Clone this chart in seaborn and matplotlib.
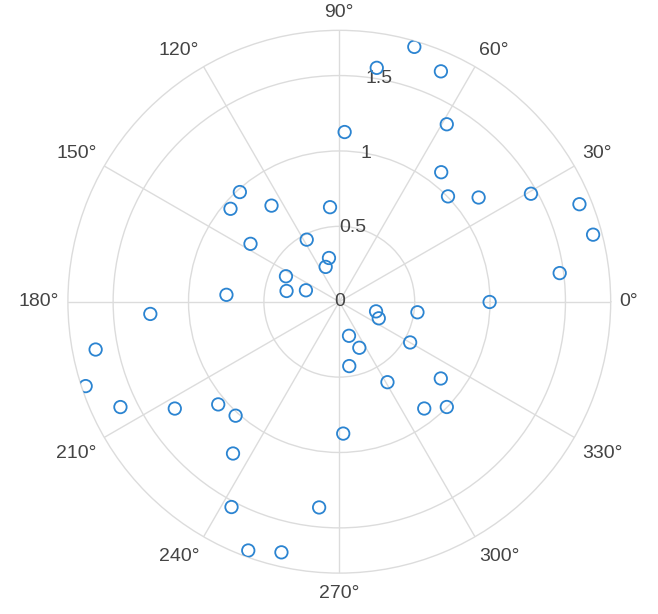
import numpy as np
import pandas as pd
import matplotlib
matplotlib.use("Agg")
import matplotlib.pyplot as plt
import seaborn as sns

# Data (angle in degrees, radius)
theta_deg = [7.4, 14.8, 22.1, 29.4, 36.8, 44.1, 51.8, 58.8, 66.2, 73.6,
             80.9, 88.2, 95.6, 103.3, 111.4, 117.7, 125.2, 132.2, 139.5, 146.9,
             154.5, 161.1, 168.5, 176.5, 183.7, 191.1, 198.4, 205.7, 213.0, 220.3,
             227.7, 235.0, 242.3, 249.9, 257.0, 264.4, 271.7, 278.8, 285.9, 293.5,
             300.9, 308.5, 315.6, 322.9, 330.1, 337.2, 345.3, 352.3, 359.9]
radius = [1.474, 1.741, 1.719, 1.459, 1.154, 1.004, 1.093, 1.376, 1.670, 1.762,
          1.571, 1.126, 0.630, 0.298, 0.248, 0.465, 0.780, 0.982, 0.949, 0.703,
          0.392, 0.234, 0.357, 0.750, 1.256, 1.647, 1.773, 1.611, 1.301, 1.053,
          1.022, 1.229, 1.538, 1.757, 1.706, 1.371, 0.875, 0.432, 0.235, 0.333,
          0.622, 0.905, 0.998, 0.844, 0.542, 0.284, 0.252, 0.523, 0.997]
theta_ticks = [0, 30, 60, 90, 120, 150, 180, 210, 240, 270, 300, 330]
theta_labels = [f"{d}°" for d in theta_ticks]
r_ticks = [0, 0.5, 1, 1.5]
r_labels = ["0", "0.5", "1", "1.5"]

sns.set_theme(style="white")
plt.rcParams['font.family'] = ['Liberation Sans', 'DejaVu Sans']

df = pd.DataFrame({"theta": np.deg2rad(theta_deg), "r": radius})

fig = plt.figure(figsize=(6.58, 6.14), dpi=100)
ax = fig.add_axes([0.1032, 0.0666, 0.8249, 0.8840], projection="polar")

sns.scatterplot(data=df, x="theta", y="r", ax=ax, s=80,
                facecolor="none", edgecolor="#2b84d1", linewidth=1.3, zorder=3)

RMAX = 1.8
ax.set_ylim(0, RMAX)
ax.set_xticks(np.deg2rad(theta_ticks))
ax.set_xticklabels([])
ax.set_yticks(r_ticks)
ax.set_yticklabels([])
ax.grid(True, color="#dcdcdc", linewidth=1.0)
ax.spines["polar"].set_color("#dcdcdc")
ax.spines["polar"].set_linewidth(1.0)
ax.set_xlabel("")
ax.set_ylabel("")

for rv, lab in zip(r_ticks, r_labels):
    ax.text(np.deg2rad(80), rv, lab, ha="center", va="center",
            fontsize=14, color="#444444", zorder=2)

# angular labels placed just outside the outer circle
anns = []
for d, lab in zip(theta_ticks, theta_labels):
    t = ax.annotate(lab, xy=(np.deg2rad(d), RMAX), xytext=(0, 0),
                    textcoords="offset pixels", ha="center", va="center",
                    fontsize=14, color="#444444", annotation_clip=False)
    anns.append((d, t))

fig.canvas.draw()
gap = 9
for d, t in anns:
    bb = t.get_window_extent()
    w, h = bb.width, bb.height
    c, s = np.cos(np.deg2rad(d)), np.sin(np.deg2rad(d))
    sx = 0 if abs(c) < 1e-6 else np.sign(c)
    sy = 0 if abs(s) < 1e-6 else np.sign(s)
    extra = -3 if sy < 0 else 0
    t.xyann = (gap * c + sx * w / 2, gap * s + sy * h / 2 + extra)

fig.savefig("out.png", dpi=100)
